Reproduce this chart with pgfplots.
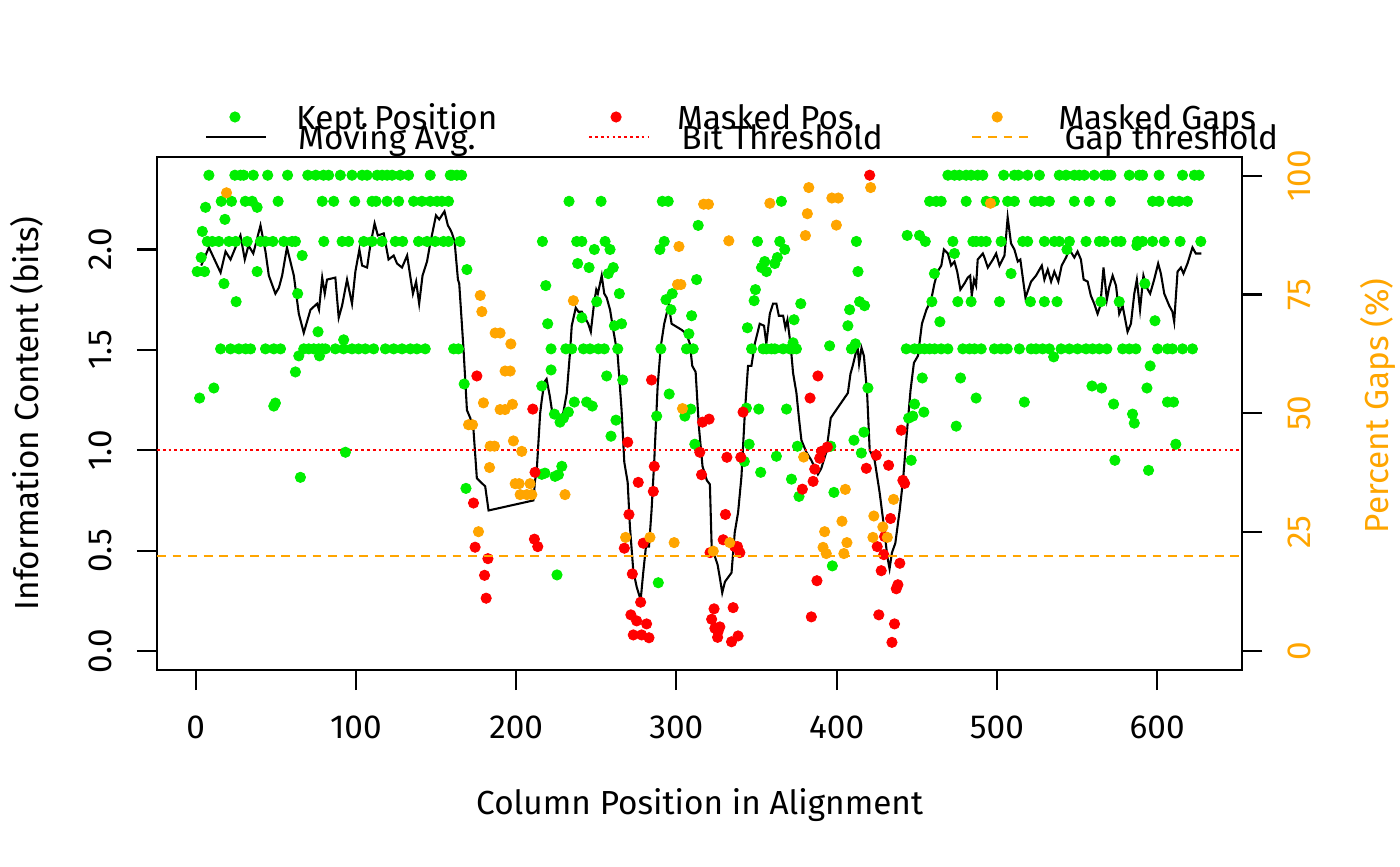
\documentclass[border=0pt]{standalone}
\usepackage{fontspec}
\setmainfont{Fira Sans}
\usepackage{pgfplots}
\pgfplotsset{compat=1.18}
\definecolor{kgreen}{RGB}{0,238,0}
\definecolor{rorange}{RGB}{255,165,0}
\begin{document}
\begin{tikzpicture}[font=\fontsize{12}{14}\selectfont]
\useasboundingbox (0,0) rectangle (504pt,311.76pt);
\pgfplotsset{
  rstyle/.style={
    scale only axis, width=390.7pt, height=184.8pt,
    at={(56.52pt,70.56pt)}, anchor=south west,
    xmin=-24.08, xmax=653.08,
    tick align=outside, major tick length=7.2pt,
    every tick/.style={black, line width=0.75pt},
    /pgf/number format/assume math mode=true,
    axis line style={line width=0.75pt},
    legend image code/.code={\path[draw=none,fill=none] (0pt,0pt) -- (21.6pt,0pt);
      \draw[mark repeat=2, mark phase=2, ##1] plot coordinates {(0pt,0pt) (10.8pt,0pt) (21.6pt,0pt)};},
    legend columns=3, legend cell align=left,
    legend style={draw=none, fill=none, inner sep=0pt, outer sep=0pt,
      column sep=0pt, nodes={inner sep=0pt, outer sep=0pt, text depth=0pt}},
  },
  mklegend/.style={legend image code/.code={\path[draw=none,fill=none] (0pt,0pt) -- (21.6pt,0pt);
      \draw[##1] plot coordinates {(10.8pt,0pt)};}},
  gm/.style={only marks, mark=*, mark size=1.85pt, color=kgreen, mark options={line width=0.3pt, draw=kgreen, fill=kgreen}, mklegend},
  rm/.style={only marks, mark=*, mark size=1.85pt, color=red, mark options={line width=0.3pt, draw=red, fill=red}, mklegend},
  om/.style={only marks, mark=*, mark size=1.85pt, color=rorange, mark options={line width=0.3pt, draw=rorange, fill=rorange}, mklegend},
}
\newcommand{\lt}[1]{\hspace*{11.2pt}\makebox[104.4pt][l]{#1}}
% ---------------- left axis ----------------
\begin{axis}[rstyle,
  ymin=-0.0947, ymax=2.4623,
  xtick={0,100,...,600}, ytick={0,0.5,1,1.5,2},
  xtick pos=bottom, ytick pos=left,
  yticklabel style={rotate=90, anchor=south, inner sep=0pt, /pgf/number format/.cd, fixed, fixed zerofill, precision=1},
  xticklabel style={inner sep=0pt, anchor=north},
  xticklabel shift=9pt, yticklabel shift=9pt,
  xlabel={Column Position in Alignment},
  ylabel={Information Content (bits)},
  xlabel style={at={(rel axis cs:0.5,-0.264)}, anchor=center},
  ylabel style={at={(rel axis cs:-0.1202,0.5)}, anchor=center},
  legend style={at={(rel axis cs:0.0442,1.0773)}, anchor=west},
]
\addplot[gm] coordinates {
(8.3,2.37)(24.5,2.37)(28,2.37)(30,2.37)(36,2.37)(45,2.37)(57.4,2.37)(70,2.37)(75,2.37)(79.8,2.37)(83,2.37)(90.3,2.37)(97.6,2.37)(103.9,2.37)(107,2.37)(113.3,2.37)(116.4,2.37)(119.5,2.37)(122.6,2.37)(127.7,2.37)(132.9,2.37)(146.4,2.37)(158.9,2.37)(160,2.37)(163,2.37)(166,2.37)(469.4,2.37)(473.5,2.37)(476.6,2.37)(480.8,2.37)(483.9,2.37)(488,2.37)(491.2,2.37)(504.2,2.37)(510.9,2.37)(513.4,2.37)(519.2,2.37)(526.5,2.37)(538.9,2.37)(543.1,2.37)(548.3,2.37)(551.4,2.37)(554.5,2.37)(560.7,2.37)(567,2.37)(569,2.37)(571.1,2.37)(582.6,2.37)(588.8,2.37)(590.9,2.37)(601.2,2.37)(615.8,2.37)(623.2,2.37)(626.2,2.37)
(16,2.24)(22.4,2.24)(31,2.24)(35.3,2.24)(51.5,2.24)(79,2.24)(86.2,2.24)(99.3,2.24)(110.1,2.24)(112.6,2.24)(119.5,2.24)(126.7,2.24)(136,2.24)(141.2,2.24)(146.4,2.24)(150.6,2.24)(153.7,2.24)(157.8,2.24)(233,2.24)(253,2.24)(291.2,2.24)(294.9,2.24)(365.5,2.24)(458,2.24)(462.1,2.24)(465.2,2.24)(480.8,2.24)(493.3,2.24)(498.4,2.24)(506.7,2.24)(510.9,2.24)(523.4,2.24)(527.5,2.24)(532.7,2.24)(548.3,2.24)(557.6,2.24)(570.7,2.24)(597.1,2.24)(601.2,2.24)(609.5,2.24)(613.7,2.24)(618.9,2.24)
(7.3,2.04)(10.4,2.04)(14.5,2.04)(20.8,2.04)(25,2.04)(32.2,2.04)(40.5,2.04)(43.6,2.04)(48.2,2.04)(55,2.04)(60.2,2.04)(62.3,2.04)(80,2.04)(91.4,2.04)(95.5,2.04)(104.9,2.04)(110.1,2.04)(116.3,2.04)(124.6,2.04)(129.2,2.04)(139.1,2.04)(144.4,2.04)(149.5,2.04)(154.7,2.04)(157.8,2.04)(165,2.04)(216.4,2.04)(237.8,2.04)(241,2.04)(255.5,2.04)(292.4,2.04)(350.6,2.04)(364.5,2.04)(412.3,2.04)(455.3,2.04)(472.5,2.04)(485,2.04)(487,2.04)(490.2,2.04)(493.3,2.04)(502.6,2.04)(516.1,2.04)(519.2,2.04)(529.6,2.04)(535.8,2.04)(538.9,2.04)(545.2,2.04)(555.6,2.04)(563.9,2.04)(567,2.04)(574.3,2.04)(577.4,2.04)(587.7,2.04)(590.9,2.04)(597.1,2.04)(604.4,2.04)(614.3,2.04)(627.2,2.04)
(25.3,1.74)(250.3,1.74)(414.3,1.74)(459.4,1.74)(475.6,1.74)(483.9,1.74)(501.6,1.74)(520.9,1.74)(529.6,1.74)(537.5,1.74)(564.9,1.74)(576.3,1.74)
(15.6,1.505)(21.8,1.505)(27,1.505)(31.2,1.505)(34.3,1.505)(43.6,1.505)(48.8,1.505)(53,1.505)(67.5,1.505)(70.6,1.505)(73.7,1.505)(76.8,1.505)(79,1.505)(81,1.505)(87.2,1.505)(92.4,1.505)(97.6,1.505)(101.7,1.505)(105.9,1.505)(111.1,1.505)(118.4,1.505)(123.6,1.505)(128.8,1.505)(134,1.505)(138.1,1.505)(143.3,1.505)(161,1.505)(164,1.505)(221.8,1.505)(231,1.505)(234.7,1.505)(242,1.505)(246.1,1.505)(251.3,1.505)(255,1.505)(263.4,1.505)(290.3,1.505)(306.3,1.505)(310.5,1.505)(346.9,1.505)(354.1,1.505)(356.2,1.505)(359.3,1.505)(361.4,1.505)(366.6,1.505)(370.7,1.505)(372.8,1.505)(374.9,1.505)(409.2,1.505)(443.4,1.505)(448.6,1.505)(451.7,1.505)(454.8,1.505)(458,1.505)(461.1,1.505)(465.2,1.505)(469.4,1.505)(478.7,1.505)(482.9,1.505)(486,1.505)(490.2,1.505)(498.4,1.505)(502.6,1.505)(506.4,1.505)(514,1.505)(521.3,1.505)(524.4,1.505)(528.5,1.505)(532.7,1.505)(540,1.505)(545.2,1.505)(550.3,1.505)(555.6,1.505)(559.7,1.505)(563.9,1.505)(568.6,1.505)(578.4,1.505)(582.6,1.505)(586.7,1.505)(600.2,1.505)(606.4,1.505)(609.5,1.505)(615.8,1.505)(622,1.505)
(4.2,2.09)(6.2,2.21)(18.3,2.15)(38.4,2.21)(3.5,1.96)(1,1.89)(5.6,1.89)(66.5,1.97)(38.4,1.89)(17.7,1.83)(63.7,1.78)(76.4,1.59)(64.4,1.47)(77.3,1.47)(62.3,1.39)(11.4,1.31)(2.5,1.26)(49.8,1.235)(48.8,1.22)(65.4,0.865)(92.4,1.55)(93.5,0.99)
(169.3,1.90)(238.4,1.93)(218.5,1.82)(241,1.66)(219.7,1.63)(167.6,1.33)(221.8,1.40)(216,1.32)(236.3,1.24)(223.9,1.18)(227.4,1.14)(229.5,1.16)(232.6,1.19)(168.7,0.81)(228.5,0.92)(216,0.88)(218,0.886)(224.3,0.87)(226.4,0.878)(225.5,0.379)
(248.8,2.0)(258.6,2.0)(245.5,1.91)(260.6,1.91)(257.5,1.88)(289.7,2.0)(313.6,2.12)(312.6,1.85)(264.4,1.78)(297.4,1.78)(293.5,1.75)(296.6,1.70)(261.3,1.62)(265.8,1.63)(309.5,1.67)(307.8,1.58)(256.5,1.37)(266.5,1.35)(295.5,1.28)(244,1.24)(247.5,1.22)(305.3,1.17)(309,1.205)(262.3,1.15)(259.2,1.07)(287.7,1.17)(311.5,1.03)(288.7,0.34)
(367.6,2.0)(363,1.96)(361.4,1.93)(355.1,1.94)(353.1,1.91)(356.2,1.89)(349.3,1.80)(348.5,1.745)(377.6,1.73)(373.4,1.65)(344.3,1.61)(372.8,1.535)(395.6,1.52)(343.7,1.21)(351.4,1.205)(368.7,1.205)(345.4,1.03)(375.5,1.02)(396.3,1.02)(342.4,0.944)(362.4,0.97)(352.6,0.89)(371.8,0.856)(376.5,0.77)(398.3,0.79)(397.3,0.424)
(444,2.07)(451.7,2.07)(473.5,1.98)(413.3,1.89)(461,1.88)(417.4,1.72)(408.1,1.70)(407,1.62)(464.4,1.64)(411.7,1.53)(419.5,1.31)(453.4,1.36)(477.3,1.36)(448.6,1.23)(454.4,1.19)(444.9,1.16)(447.5,1.17)(487,1.26)(474.6,1.12)(417,1.09)(410.8,1.05)(415.4,0.986)(446.5,0.95)
(543.7,2.0)(508.8,1.88)(535.4,1.465)(517.1,1.24)(559.3,1.32)(565.3,1.31)
(587.3,2.02)(592.3,1.83)(598.6,1.645)(595.6,1.42)(593.6,1.31)(572.8,1.23)(606.4,1.24)(610.2,1.24)(584.6,1.18)(585.7,1.135)(611.6,1.03)(573.6,0.95)(594.6,0.90)
};
\addlegendentry{\lt{Kept Position}}
\addplot[rm] coordinates {
(175.5,1.37)(210.4,1.205)(211.8,0.89)(173.4,0.737)(211.4,0.557)(213.5,0.52)(174.4,0.517)(182.4,0.46)(180.3,0.377)(181.3,0.263)
(284.5,1.35)(269.6,1.04)(286.2,0.92)(276.2,0.84)(285.6,0.795)(270.4,0.68)(267.5,0.512)(279.3,0.537)(272.5,0.384)(277.7,0.243)(271.6,0.18)(275.2,0.15)(281.4,0.135)(273.1,0.08)(278.3,0.08)(282.9,0.066)(316.3,1.14)(320.4,1.155)(314.6,0.99)(315.7,0.878)(321,0.49)(323.5,0.21)(322,0.158)(324,0.113)
(341.6,1.19)(388.3,1.37)(383.4,1.26)(331.5,0.965)(340.2,0.965)(390.5,0.994)(389.4,0.96)(394.2,1.016)(386.3,0.906)(385.3,0.845)(378.6,0.806)(330.6,0.68)(329.2,0.554)(338.1,0.52)(339.6,0.49)(336.4,0.52)(387.7,0.35)(335.4,0.216)(327.1,0.12)(326,0.096)(325.7,0.068)(334.4,0.046)(338.5,0.075)(384.2,0.17)
(420.6,2.37)(440.3,1.10)(424.7,0.975)(432.4,0.925)(418.5,0.91)(441.3,0.85)(442.4,0.835)(433.6,0.66)(429.9,0.57)(425.3,0.52)(429.4,0.48)(427.8,0.40)(439.4,0.437)(438.2,0.33)(437.2,0.31)(426.3,0.18)(436.1,0.135)(434.5,0.043)
};
\addlegendentry{\lt{Masked Pos.}}
\addlegendimage{om}
\addlegendentry{\lt{Masked Gaps}}
\addplot[black, line width=0.75pt, forget plot] coordinates {
(3.5,1.92)(8.3,2.01)(15.6,1.885)(18.7,1.99)(21.8,1.95)(28,2.07)(30.7,1.95)(33,2.02)(36,1.98)(40.5,2.12)(43.6,1.99)(45.7,1.87)(49.8,1.78)(52,1.81)(54,1.87)(57,2.01)(61.3,1.87)(64.4,1.68)(67.5,1.585)(71.7,1.70)(75.8,1.73)(77,1.70)(79,1.86)(80.6,1.78)(82,1.85)(87.2,1.86)(89.3,1.66)(91.4,1.72)(94.5,1.85)(97.6,1.73)(99.7,1.89)(102.2,2.0)(103.9,1.92)(107,1.91)(109,2.02)(111.7,2.13)(113.7,2.07)(117.4,2.08)(120.4,1.95)(123.6,1.97)(125.7,1.93)(128.8,1.91)(132,1.97)(135.6,1.78)(137.6,1.84)(139.5,1.73)(141.6,1.87)(144.4,1.94)(146.4,2.03)(150,2.17)(152,2.15)(155.3,2.19)(157.4,2.12)(158.9,2.1)(160,2.08)(161.6,2.04)(163.7,1.85)(164.5,1.83)(167.2,1.50)(169.3,1.20)(171.4,1.16)(173.4,1.10)(175.5,0.86)(180.7,0.82)(182.8,0.70)(210.8,0.75)(211.8,0.85)(212.8,0.89)(215,1.185)(216,1.25)(217.6,1.34)(219,1.355)(221,1.27)(222.6,1.185)(225,1.17)(227.4,1.14)(229.5,1.19)(231.6,1.285)(233.6,1.485)(234.7,1.62)(237.2,1.71)(238.9,1.69)(241,1.69)(245,1.63)(246.6,1.59)(248.6,1.73)(250,1.80)(251,1.78)(253.4,1.87)(255,1.78)(256.5,1.76)(258.6,1.70)(260.6,1.60)(263.4,1.47)(265.8,1.20)(267.5,0.94)(269.6,0.84)(271,0.62)(273.1,0.40)(275.2,0.32)(277.7,0.254)(279.3,0.39)(281,0.52)(282.9,0.52)(284.5,0.70)(286.2,0.95)(288.3,1.32)(290.3,1.52)(292.4,1.63)(293.9,1.68)(295.3,1.72)(297,1.63)(303.2,1.60)(306.3,1.58)(308.4,1.53)(309.9,1.42)(312,1.39)(314,1.12)(316.3,0.92)(319,0.85)(320.9,0.83)(322,0.52)(325.7,0.43)(327,0.37)(328.6,0.29)(330.3,0.345)(334.4,0.39)(336.4,0.59)(338.5,0.69)(340.6,0.87)(342.7,1.185)(344.7,1.42)(346.8,1.42)(348.9,1.53)(352,1.63)(354.7,1.62)(356.1,1.53)(358.3,1.68)(360.3,1.73)(362.4,1.73)(363.9,1.67)(366.6,1.67)(368,1.61)(369.3,1.65)(371.3,1.52)(372.8,1.385)(374.9,1.285)(376.6,1.15)(378,1.05)(381.1,0.99)(384.2,0.95)(388.3,0.88)(390.4,0.91)(393.5,0.99)(396.3,1.16)(398.8,1.19)(407,1.285)(408.6,1.38)(410,1.42)(411.5,1.47)(413,1.52)(414,1.43)(415.5,1.51)(417,1.47)(419,1.285)(420.6,1.0)(423.7,0.95)(426.8,0.79)(429.5,0.62)(431.6,0.47)(433,0.41)(434.5,0.49)(436.6,0.537)(439.3,0.70)(441.4,0.85)(443.4,1.05)(446.1,1.30)(448.2,1.435)(450.7,1.47)(453.2,1.63)(456,1.70)(459,1.75)(461,1.83)(463,1.89)(465.3,1.92)(466.9,2.0)(469.4,1.98)(471.4,1.92)(473.5,1.94)(475.2,1.89)(477.2,1.80)(479.7,1.83)(481.8,1.86)(483.3,1.87)(484.3,1.77)(485.7,1.85)(487,1.82)(488,1.95)(491.2,1.98)(492.2,1.96)(494.3,1.91)(497.5,1.95)(499.5,1.98)(501.6,1.92)(504.7,1.97)(506.7,2.16)(508.8,2.03)(510.9,2.0)(513,1.94)(514.6,1.95)(517.8,1.76)(521.3,1.84)(524.4,1.87)(528,1.92)(529.6,1.85)(531.7,1.90)(533.8,1.84)(535.8,1.89)(538.3,1.84)(540.4,1.92)(543.1,1.96)(545.2,2.0)(548.3,1.96)(550.3,1.99)(552.4,1.95)(554.1,1.85)(556.6,1.84)(558.6,1.77)(560.7,1.73)(562.8,1.68)(564.5,1.72)(566.5,1.91)(568.6,1.75)(570,1.81)(572.2,1.87)(574.3,1.82)(576.3,1.68)(578.4,1.72)(581.5,1.59)(583.6,1.63)(585.7,1.78)(587.3,1.85)(589.3,1.70)(591.4,1.87)(593.5,1.81)(595.6,1.78)(598.1,1.85)(600.6,1.93)(602.3,1.88)(604.4,1.78)(607.5,1.72)(609.5,1.69)(610.6,1.64)(612.7,1.89)(614.8,1.91)(616.4,1.88)(618.9,1.93)(622,2.01)(624.1,1.98)(627.6,1.98)
};
\addplot[red, line width=0.75pt, dash pattern=on 1pt off 1.1pt, forget plot] coordinates {(-24.08,1) (653.08,1)};
\end{axis}
% ---------------- right axis ----------------
\begin{axis}[rstyle,
  ymin=-4, ymax=104,
  hide x axis, axis y line*=right,
  ytick={0,25,50,75,100},
  yticklabel style={rotate=90, anchor=north, inner sep=0pt, text=rorange},
  yticklabel shift=9pt,
  ylabel={Percent Gaps (\%)},
  ylabel style={at={(rel axis cs:1.125,0.515)}, anchor=center, text=rorange},
  legend style={at={(rel axis cs:0.0442,1.0384)}, anchor=west},
]
\addplot[om, forget plot] coordinates {
(19.3,96.4)(177.6,74.8)(178.6,71.4)(186.9,66.9)(190,66.9)(196.7,64.6)(193.1,58.9)(196.3,58.9)(179.6,52.2)(190,50.8)(193.1,50.8)(197.7,51.9)(170.3,47.6)(172.8,47.6)(198.3,44.2)(203.5,42)(183.8,43.1)(186.5,43.1)(183.4,38.6)(199.4,35.2)(201.9,35.2)(208.7,35.2)(202.5,32.9)(206.7,32.9)(209.8,32.9)(230.5,32.9)(176.5,25.1)(235.7,73.7)
(317,94)(320,94)(301.6,85.1)(300.7,77.1)(302.8,77.1)(303.8,51)(268.3,23.9)(283.5,23.9)(298.6,22.8)(323,21)
(358.3,94.2)(382.6,97.5)(397,95.3)(401,95.3)(381.7,92)(399.8,89.6)(380.5,87.4)(332.7,86.3)(379.4,40.8)(333.3,22.8)(392.5,25.1)(391.5,21.8)(393.5,20.5)
(405.4,34)(403.3,27.3)(406.4,22.8)(404.5,20.5)(421.2,97.5)(435.5,31.9)(423.2,28.4)(428.8,26.1)(422.6,23.9)(431.6,23.9)(496,94.2)
};
\addplot[rorange, line width=0.75pt, dash pattern=on 3.2pt off 2.4pt, forget plot] coordinates {(-24.08,20) (653.08,20)};
\addlegendimage{black, line width=0.75pt}
\addlegendentry{\lt{Moving Avg.}}
\addlegendimage{red, line width=0.75pt, dash pattern=on 1pt off 1.1pt}
\addlegendentry{\lt{Bit Threshold}}
\addlegendimage{rorange, line width=0.75pt, dash pattern=on 3.2pt off 2.4pt}
\addlegendentry{\lt{Gap threshold}}
\end{axis}
\end{tikzpicture}
\end{document}
